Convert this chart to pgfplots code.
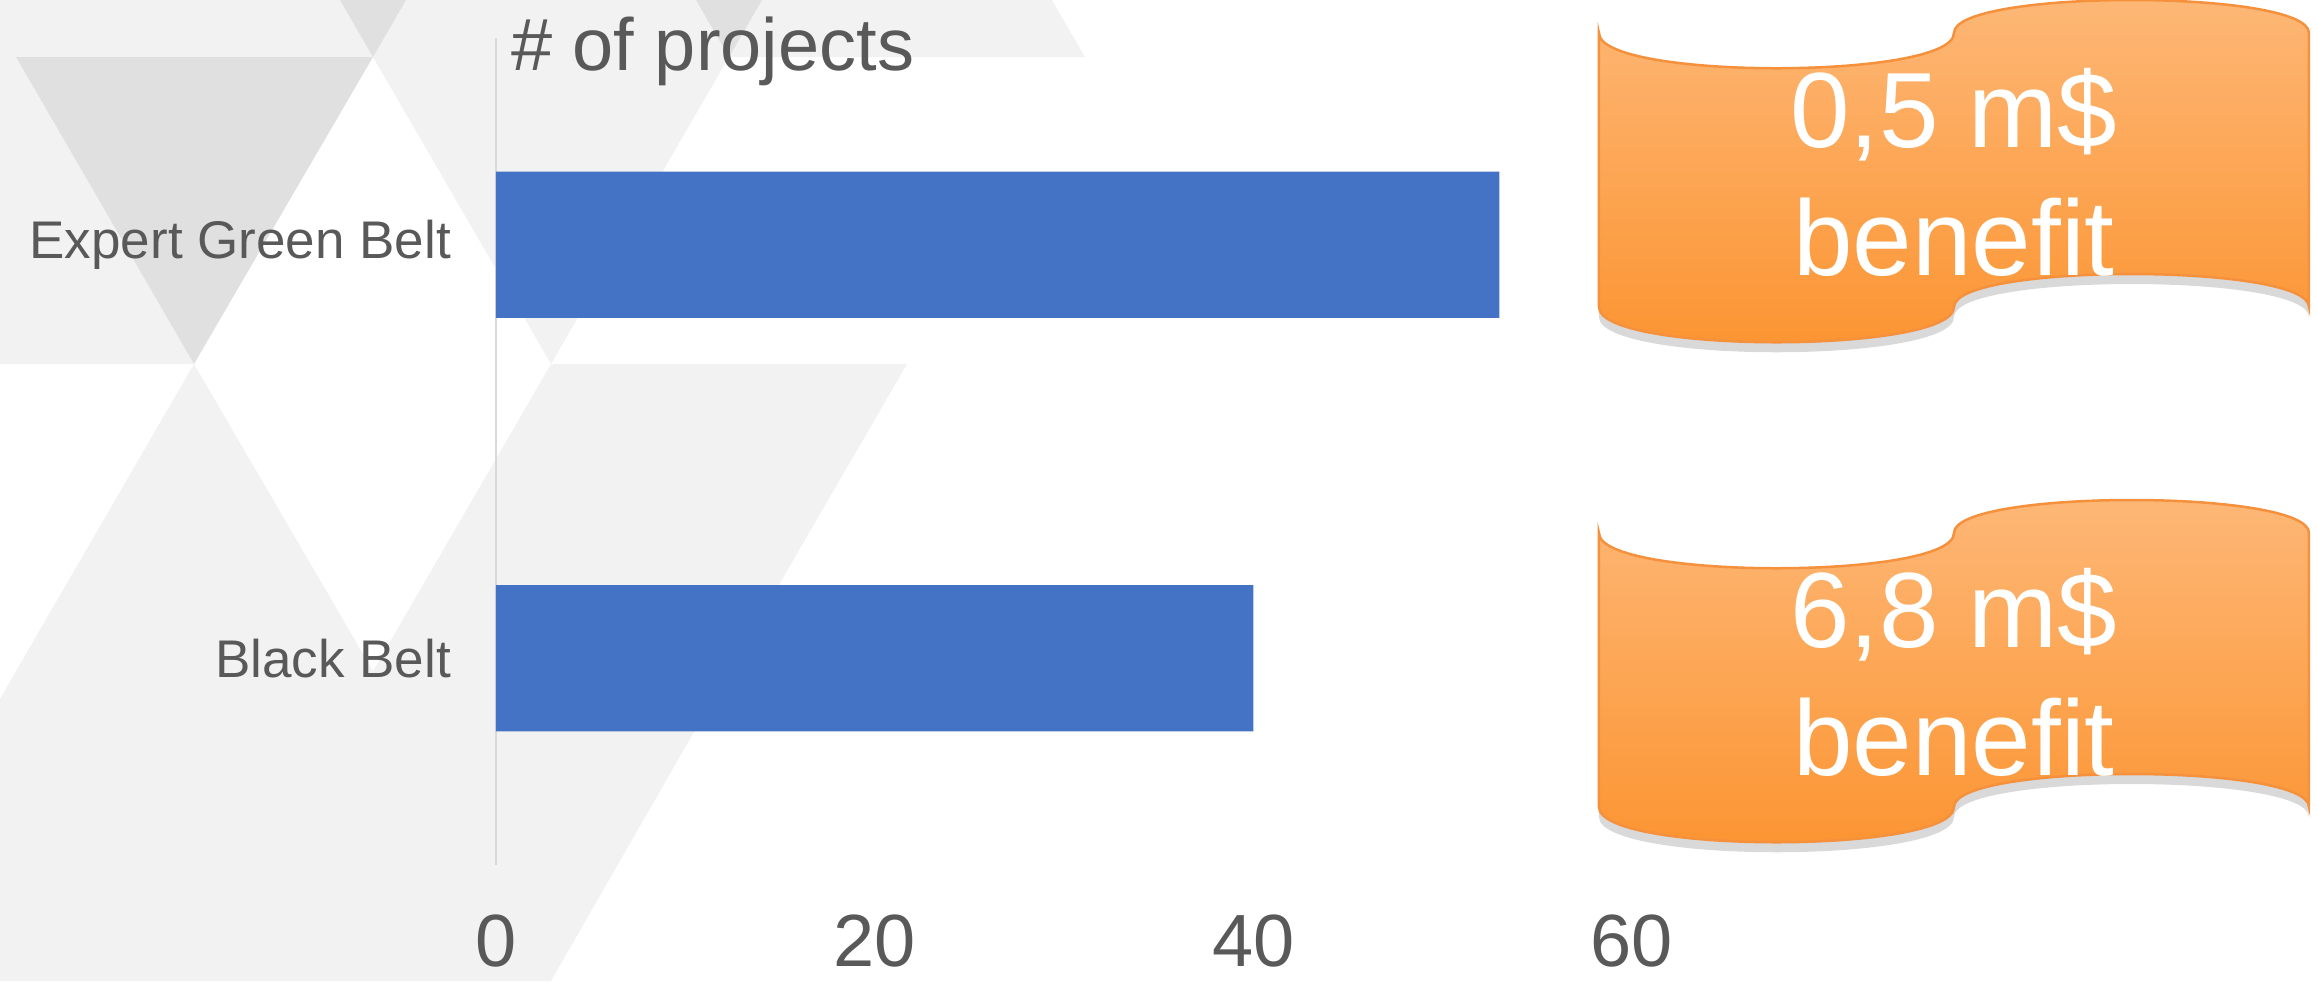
\documentclass[border=0pt]{standalone}
\usepackage{pgfplots}
\pgfplotsset{compat=1.18}
\usepackage{fontspec}
\setmainfont{Liberation Sans}
\usetikzlibrary{shadows}
\definecolor{barblue}{HTML}{4472C4}
\definecolor{txtgray}{HTML}{595959}
\definecolor{bglight}{HTML}{F2F2F2}
\definecolor{bgdark}{HTML}{E0E0E0}
\definecolor{axisgray}{HTML}{D9D9D9}
\definecolor{orangetop}{HTML}{FDB878}
\definecolor{orangebot}{HTML}{FC9431}
\definecolor{orangeedge}{HTML}{F5913C}

\begin{document}
\begin{tikzpicture}
% background pattern, in pixels of the reference (y going down)
\begin{scope}[x=0.2pt,y=-0.2pt]
  \fill[bglight] (0,0) -- (1052,0) -- (1085,57) -- (0,57) -- cycle;
  \fill[bgdark] (340,0) -- (406,0) -- (373,57) -- cycle;
  \fill[bgdark] (696,0) -- (762,0) -- (729,57) -- cycle;
  \fill[bglight] (0,57) -- (16,57) -- (194,364) -- (0,364) -- cycle;
  \fill[bgdark] (16,57) -- (373,57) -- (194,364) -- cycle;
  \fill[bglight] (373,57) -- (729,57) -- (551,364) -- cycle;
  \fill[bglight] (194,364) -- (16,671) -- (373,671) -- cycle;
  \fill[bglight] (551,364) -- (373,671) -- (729,671) -- cycle;
  \fill[bglight] (551,364) -- (907,364) -- (729,671) -- cycle;
  \fill[bglight] (0,699) -- (16,671) -- (373,671) -- (194,981) -- (0,981) -- cycle;
  \fill[bglight] (373,671) -- (729,671) -- (551,981) -- (194,981) -- cycle;
\end{scope}

\begin{axis}[
    at={(99.2pt,-173pt)}, anchor=south west,
    scale only axis, width=227.2pt, height=165.4pt,
    xbar, bar width=0.354,
    xmin=0, xmax=60, ymin=-0.5, ymax=1.5,
    xtick={0,20,40,60}, ytick={0,1},
    yticklabels={Black Belt,Expert Green Belt},
    axis lines*=left,
    axis line style={-},
    x axis line style={draw=none},
    y axis line style={draw=axisgray, line width=0.4pt},
    major tick length=0pt,
    tick label style={text=txtgray},
    xticklabel style={font=\fontsize{14.8}{17}\selectfont, inner sep=0pt, yshift=-9.8pt},
    yticklabel style={font=\fontsize{10.6}{13}\selectfont, xshift=-5.5pt},
    /pgf/number format/assume math mode=true,
    clip=false,
  ]
  \addplot[fill=barblue, draw=none] coordinates {(40,0) (53,1)};
\end{axis}

\node[anchor=base west, inner sep=0, text=txtgray, font=\fontsize{14.8}{17}\selectfont]
  at (102pt,-14pt) {\# of projects};

% benefit banners
\begin{scope}[x=0.2pt,y=-0.2pt]
  \path[drop shadow={shadow xshift=0pt, shadow yshift=-2pt, opacity=0.3},
        top color=orangetop, bottom color=orangebot, draw=orangeedge, line width=0.5pt]
    (1599,33) .. controls (1599,80) and (1954,80) .. (1954,33)
    .. controls (1954,-11) and (2309,-11) .. (2309,33) -- (2309,307)
    .. controls (2309,263) and (1954,263) .. (1954,307)
    .. controls (1954,354) and (1599,354) .. (1599,307) -- cycle;
  \path[drop shadow={shadow xshift=0pt, shadow yshift=-2pt, opacity=0.3},
        top color=orangetop, bottom color=orangebot, draw=orangeedge, line width=0.5pt]
    (1599,533) .. controls (1599,580) and (1954,580) .. (1954,533)
    .. controls (1954,489) and (2309,489) .. (2309,533) -- (2309,807)
    .. controls (2309,763) and (1954,763) .. (1954,807)
    .. controls (1954,854) and (1599,854) .. (1599,807) -- cycle;
  \node[anchor=base, text=white, font=\fontsize{21.4}{25}\selectfont] at (1954,147) {0,5 m\$};
  \node[anchor=base, text=white, font=\fontsize{21.4}{25}\selectfont] at (1954,275) {benefit};
  \node[anchor=base, text=white, font=\fontsize{21.4}{25}\selectfont] at (1954,647) {6,8 m\$};
  \node[anchor=base, text=white, font=\fontsize{21.4}{25}\selectfont] at (1954,775) {benefit};
\end{scope}

% page is exactly the reference frame
\pgfresetboundingbox
\path[use as bounding box] (0,0) rectangle (463.6pt,-196.2pt);
\end{tikzpicture}
\end{document}
